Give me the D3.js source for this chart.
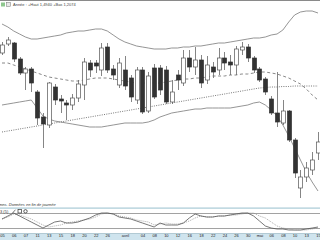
<!DOCTYPE html>
<html>
<head>
<meta charset="utf-8">
<script src="https://cdn.jsdelivr.net/npm/d3@7"></script>
<style>
  body { margin: 0; background: #fff; overflow: hidden; }
  svg { display: block; font-family: "Liberation Sans", Arial, sans-serif; }
</style>
</head>
<body>
<div id="chart"></div>
<script>
// daily candles, 55 sessions
var opens  = [1.3294,1.3312,1.3314,1.3282,1.3254,1.3262,1.3216,1.3166,1.3150,1.3226,1.3202,1.3194,1.3190,1.3204,1.3230,1.3274,1.3274,1.3260,1.3306,1.3262,1.3230,1.3260,1.3244,1.3200,1.3260,1.3178,1.3264,1.3264,1.3260,1.3196,1.3250,1.3234,1.3284,1.3266,1.3280,1.3240,1.3266,1.3260,1.3284,1.3276,1.3270,1.3300,1.3306,1.3284,1.3262,1.3242,1.3202,1.3174,1.3154,1.3178,1.3120,1.3024,1.3046,1.3060,1.3094];
var highs  = [1.3316,1.3326,1.3316,1.3286,1.3266,1.3266,1.3220,1.3174,1.3236,1.3232,1.3210,1.3200,1.3212,1.3240,1.3284,1.3280,1.3280,1.3314,1.3314,1.3270,1.3284,1.3288,1.3250,1.3266,1.3266,1.3256,1.3272,1.3270,1.3268,1.3240,1.3260,1.3300,1.3300,1.3306,1.3290,1.3288,1.3276,1.3304,1.3296,1.3290,1.3308,1.3316,1.3312,1.3288,1.3266,1.3246,1.3208,1.3256,1.3200,1.3180,1.3124,1.3060,1.3076,1.3096,1.3136];
var lows   = [1.3290,1.3308,1.3276,1.3250,1.3220,1.3216,1.3150,1.3104,1.3144,1.3190,1.3174,1.3160,1.3180,1.3196,1.3200,1.3246,1.3254,1.3248,1.3254,1.3240,1.3224,1.3220,1.3196,1.3192,1.3172,1.3174,1.3202,1.3210,1.3192,1.3192,1.3220,1.3228,1.3256,1.3250,1.3224,1.3232,1.3244,1.3250,1.3260,1.3250,1.3250,1.3290,1.3276,1.3254,1.3236,1.3210,1.3170,1.3146,1.3150,1.3116,1.3044,1.3004,1.3036,1.3050,1.3080];
var closes = [1.3310,1.3320,1.3282,1.3254,1.3262,1.3234,1.3164,1.3152,1.3234,1.3200,1.3198,1.3190,1.3204,1.3232,1.3276,1.3260,1.3268,1.3304,1.3260,1.3250,1.3274,1.3228,1.3206,1.3260,1.3176,1.3248,1.3206,1.3220,1.3196,1.3216,1.3240,1.3284,1.3266,1.3280,1.3234,1.3270,1.3256,1.3284,1.3274,1.3270,1.3302,1.3306,1.3284,1.3260,1.3240,1.3216,1.3174,1.3156,1.3178,1.3120,1.3054,1.3046,1.3064,1.3080,1.3116];

// bollinger bands (20) and long moving average
var bandUpper = [1.3352,1.3346,1.3338,1.3332,1.3326,1.3322,1.3322,1.3324,1.3326,1.3328,1.3330,1.3334,1.3336,1.3338,1.3338,1.3340,1.3342,1.3342,1.3338,1.3330,1.3322,1.3316,1.3312,1.3308,1.3306,1.3304,1.3302,1.3302,1.3302,1.3304,1.3304,1.3306,1.3306,1.3308,1.3308,1.3310,1.3312,1.3314,1.3314,1.3316,1.3318,1.3320,1.3322,1.3324,1.3324,1.3326,1.3330,1.3332,1.3340,1.3356,1.3370,1.3376,1.3378,1.3378,1.3374];
var bandMid   = [1.3274,1.3274,1.3270,1.3266,1.3262,1.3258,1.3254,1.3250,1.3246,1.3244,1.3242,1.3240,1.3238,1.3238,1.3240,1.3242,1.3244,1.3244,1.3244,1.3242,1.3240,1.3238,1.3236,1.3234,1.3234,1.3234,1.3234,1.3234,1.3236,1.3238,1.3240,1.3242,1.3242,1.3244,1.3244,1.3246,1.3248,1.3248,1.3248,1.3250,1.3250,1.3252,1.3252,1.3254,1.3256,1.3256,1.3254,1.3252,1.3248,1.3244,1.3238,1.3232,1.3222,1.3210,1.3200];
var bandLower = [1.3190,1.3192,1.3194,1.3196,1.3198,1.3200,1.3184,1.3168,1.3162,1.3158,1.3156,1.3154,1.3152,1.3150,1.3148,1.3146,1.3146,1.3146,1.3148,1.3150,1.3152,1.3154,1.3154,1.3154,1.3154,1.3156,1.3160,1.3166,1.3170,1.3174,1.3176,1.3178,1.3180,1.3182,1.3182,1.3184,1.3184,1.3184,1.3184,1.3184,1.3186,1.3188,1.3190,1.3194,1.3196,1.3190,1.3180,1.3168,1.3150,1.3128,1.3104,1.3080,1.3056,1.3036,1.3018];
var longMA    = [1.3136,1.3138,1.3140,1.3142,1.3144,1.3146,1.3148,1.3150,1.3152,1.3154,1.3156,1.3158,1.3160,1.3162,1.3164,1.3166,1.3168,1.3170,1.3172,1.3174,1.3176,1.3178,1.3180,1.3182,1.3184,1.3186,1.3188,1.3190,1.3192,1.3194,1.3196,1.3198,1.3200,1.3202,1.3204,1.3206,1.3208,1.3210,1.3212,1.3214,1.3216,1.3218,1.3220,1.3222,1.3224,1.3225,1.3226,1.3226,1.3227,1.3227,1.3228,1.3228,1.3228,1.3228,1.3228];

// stochastic %K and %D
var stochK = [56,68,80,68,56,44,32,20,32,44,48,40,40,44,52,60,72,80,80,76,64,60,56,48,40,32,24,40,32,32,32,40,60,76,68,64,64,68,68,72,76,80,80,68,48,28,20,16,16,12,12,12,16,20,24];
var stochD = [56,64,76,72,64,56,44,32,24,28,32,40,44,48,52,56,64,76,80,76,68,64,60,52,48,44,32,36,40,36,36,40,48,60,68,64,64,68,68,72,72,76,80,80,68,60,44,28,20,16,12,12,12,16,20];

var tickIdx    = [0,2,4,6,8,10,12,14,16,18,21,24,26,28,30,32,34,36,38,40,42,44,46,48,50,52,54];
var tickLabels = ["05","06","07","11","13","15","18","20","22","26","avril","04","08","10","12","16","18","22","24","26","30","mai","06","08","10","13","15"];

var headerText = "Année : +Haut 1,4940 +Bas 1,2074";
var noteText = "mns. Données en fin de journée";

var width = 320, height = 240;
var n = closes.length;

var svg = d3.select("#chart").append("svg")
  .attr("width", width)
  .attr("height", height);

var x = d3.scaleLinear().domain([0, n - 1]).range([2, 318]);
var y = d3.scaleLinear().domain([1.3000, 1.3382]).range([200, 9]);
var yOsc = d3.scaleLinear().domain([0, 100]).range([233, 208]);

// header
svg.append("rect").attr("x", 0).attr("y", 0).attr("width", width).attr("height", 1).attr("fill", "#8a8a8a");
svg.append("rect").attr("x", 1).attr("y", 2.5).attr("width", 4).attr("height", 4).attr("fill", "#8fc78f");
svg.append("rect").attr("x", 6.5).attr("y", 2.5).attr("width", 4).attr("height", 4)
  .attr("fill", "#e8e8e8").attr("stroke", "#777").attr("stroke-width", 0.5);
svg.append("text").attr("x", 13).attr("y", 6.3)
  .attr("font-size", 4).attr("fill", "#444").text(headerText);

var main = svg.append("g");
main.append("clipPath").attr("id", "clipMain")
  .append("rect").attr("x", 0).attr("y", 9).attr("width", width).attr("height", 193);
var plot = main.append("g").attr("clip-path", "url(#clipMain)");

var idx = d3.range(n);
function lineOf(arr) {
  return d3.line().x(function(i) { return x(i); }).y(function(i) { return y(arr[i]); });
}

plot.append("path").attr("d", lineOf(bandUpper)(idx))
  .attr("fill", "none").attr("stroke", "#7a7a7a").attr("stroke-width", 0.8);
plot.append("path").attr("d", lineOf(bandLower)(idx))
  .attr("fill", "none").attr("stroke", "#7a7a7a").attr("stroke-width", 0.8);
plot.append("path").attr("d", lineOf(bandMid)(idx))
  .attr("fill", "none").attr("stroke", "#6a6a6a").attr("stroke-width", 0.8)
  .attr("stroke-dasharray", "3,2.5");
plot.append("path").attr("d", lineOf(longMA)(idx))
  .attr("fill", "none").attr("stroke", "#555").attr("stroke-width", 0.8)
  .attr("stroke-dasharray", "1,1.3");

var bodyW = 4;
var candles = plot.selectAll("g.candle").data(idx).enter().append("g").attr("class", "candle");
candles.append("line")
  .attr("x1", function(i) { return Math.round(x(i)) + 0.5; })
  .attr("x2", function(i) { return Math.round(x(i)) + 0.5; })
  .attr("y1", function(i) { return y(highs[i]); })
  .attr("y2", function(i) { return y(lows[i]); })
  .attr("stroke", "#666").attr("stroke-width", 0.8);
candles.append("rect")
  .attr("x", function(i) { return Math.round(x(i)) + 0.5 - bodyW / 2; })
  .attr("y", function(i) { return y(Math.max(opens[i], closes[i])); })
  .attr("width", bodyW)
  .attr("height", function(i) { return Math.max(1, Math.abs(y(opens[i]) - y(closes[i]))); })
  .attr("fill", function(i) { return closes[i] >= opens[i] ? "#fff" : "#333"; })
  .attr("stroke", function(i) { return closes[i] >= opens[i] ? "#555" : "#333"; })
  .attr("stroke-width", 0.7);

// footnote
svg.append("text").attr("x", -1).attr("y", 206)
  .attr("font-size", 4).attr("font-style", "italic").attr("fill", "#333").text(noteText);
svg.append("rect").attr("x", 0).attr("y", 207.5).attr("width", width).attr("height", 1.2).attr("fill", "#a9cad6");

// oscillator panel
var osc = svg.append("g");
[80, 20].forEach(function(v) {
  osc.append("line").attr("x1", 0).attr("x2", width)
    .attr("y1", Math.round(yOsc(v)) + 0.5).attr("y2", Math.round(yOsc(v)) + 0.5)
    .attr("stroke", "#8a8a8a").attr("stroke-width", 0.8);
});
osc.append("path").attr("d", d3.line().x(function(i) { return x(i); }).y(function(i) { return yOsc(stochD[i]); })(idx))
  .attr("fill", "none").attr("stroke", "#888").attr("stroke-width", 0.7).attr("stroke-dasharray", "1,1");
osc.append("path").attr("d", d3.line().x(function(i) { return x(i); }).y(function(i) { return yOsc(stochK[i]); })(idx))
  .attr("fill", "none").attr("stroke", "#555").attr("stroke-width", 0.8);

osc.append("text").attr("x", 0).attr("y", 213).attr("font-size", 4).attr("fill", "#333").text("3 (5)");
osc.append("rect").attr("x", 18).attr("y", 209.5).attr("width", 3.5).attr("height", 3.5)
  .attr("fill", "#fff").attr("stroke", "#333").attr("stroke-width", 0.7);
osc.append("circle").attr("cx", 25.5).attr("cy", 211.3).attr("r", 1.7)
  .attr("fill", "#fff").attr("stroke", "#333").attr("stroke-width", 0.8);
osc.append("line").attr("x1", 12.5).attr("y1", 213).attr("x2", 15.5).attr("y2", 209.7)
  .attr("stroke", "#555").attr("stroke-width", 0.8);

// date axis band
svg.append("rect").attr("x", 0).attr("y", 233).attr("width", width).attr("height", 7).attr("fill", "#cfe4ee");
svg.append("rect").attr("x", 0).attr("y", 233).attr("width", width).attr("height", 0.6).attr("fill", "#9fb9c4");
var xAxis = d3.axisBottom(x)
  .tickValues(tickIdx)
  .tickSize(0)
  .tickPadding(0)
  .tickFormat(function(d, k) { return tickLabels[k]; });
var gx = svg.append("g").attr("transform", "translate(0,234)").call(xAxis);
gx.select(".domain").remove();
gx.selectAll("text").attr("font-size", 4).attr("fill", "#222").attr("dy", "0.8em")
  .attr("font-family", "Liberation Sans, Arial, sans-serif");
</script>
</body>
</html>
